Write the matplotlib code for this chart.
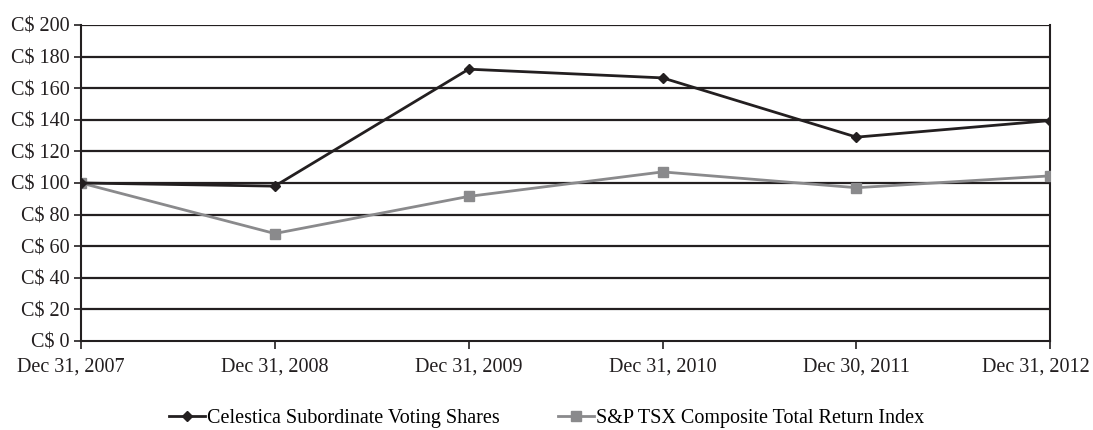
import matplotlib.pyplot as plt
import matplotlib.transforms as mtransforms

dates = ["Dec 31, 2007", "Dec 31, 2008", "Dec 31, 2009", "Dec 31, 2010", "Dec 30, 2011", "Dec 31, 2012"]
celestica = [100, 98, 172, 166.5, 129, 139.5]
tsx = [100, 68, 91.5, 107, 97, 104.5]
yticks = list(range(0, 201, 20))

plt.rcParams['font.family'] = ['Liberation Serif', 'DejaVu Serif']

fig = plt.figure(figsize=(10.93, 4.30), dpi=100)
ax = fig.add_axes([0.074, 0.207, 0.887, 0.735])

x = range(len(dates))
ax.plot(x, celestica, color='#231f20', lw=2, marker='D', ms=5, label='Celestica Subordinate Voting Shares', zorder=4)
ax.plot(x, tsx, color='#8a8a8c', lw=2, marker='s', ms=7, label='S&P TSX Composite Total Return Index', zorder=3)

for v in yticks[1:]:
    ax.axhline(v, color='#231f20', lw=1.6, zorder=1)

ax.set_xlim(0, len(dates) - 1)
ax.set_ylim(0, 200)
ax.set_yticks(yticks)
ax.set_yticklabels([f"C$ {v}" for v in yticks])
ax.set_xticks(list(x))
ax.set_xticklabels(dates)
ax.tick_params(labelsize=14.5, colors='#231f20', length=5, width=1.2)
ax.tick_params(axis='y', pad=3)
ax.tick_params(axis='x', length=6, pad=6)
for s in ['top']:
    ax.spines[s].set_visible(False)
for s in ['left', 'bottom', 'right']:
    ax.spines[s].set_color('#231f20')
    ax.spines[s].set_linewidth(1.5)

labels = ax.get_xticklabels()
labels[0].set_transform(labels[0].get_transform() + mtransforms.ScaledTranslation(-0.1, 0, fig.dpi_scale_trans))
labels[-1].set_transform(labels[-1].get_transform() + mtransforms.ScaledTranslation(-0.14, 0, fig.dpi_scale_trans))

fig.legend(loc='lower center', bbox_to_anchor=(0.5, -0.037), ncol=2, frameon=False,
           fontsize=14.5, handlelength=1.8, handletextpad=0.1, columnspacing=2.9)

plt.savefig('out.png', dpi=100)
